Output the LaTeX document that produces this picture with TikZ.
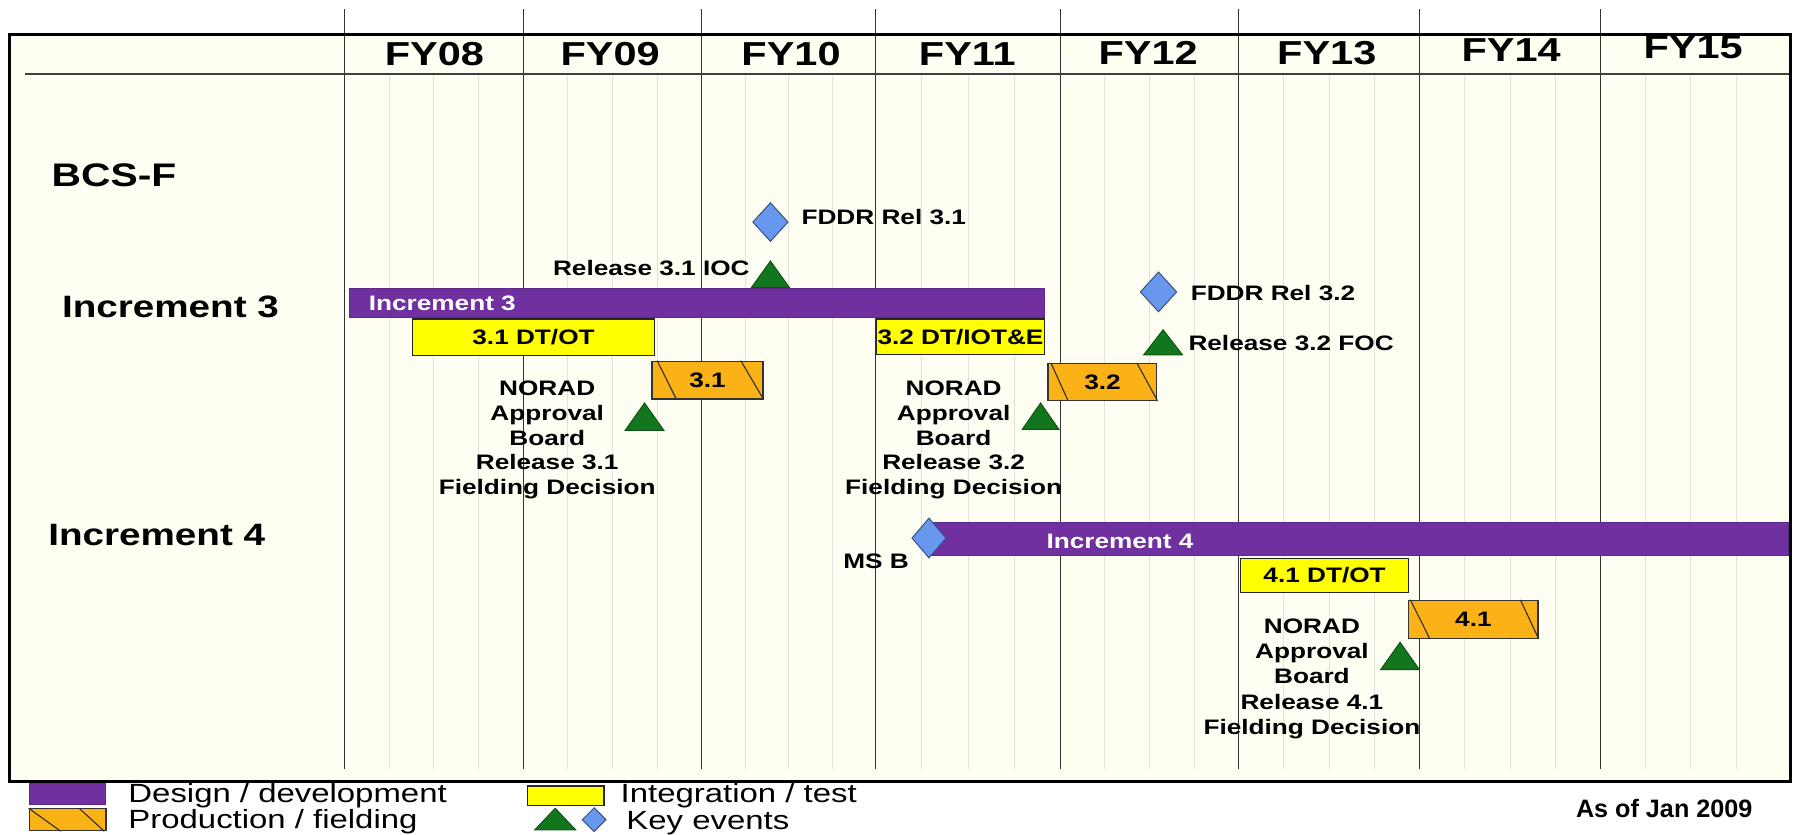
\documentclass[tikz,border=0pt]{standalone}
\usepackage{fontspec}
\setmainfont{Liberation Sans}[FakeStretch=1.25]
\newfontfamily\datefont{Liberation Sans}
\usetikzlibrary{shapes.geometric,calc}

\definecolor{devpurple}{RGB}{112,48,160}
\definecolor{testyellow}{RGB}{255,255,0}
\definecolor{fieldorange}{RGB}{250,178,22}
\definecolor{evgreen}{RGB}{18,118,30}
\definecolor{evblue}{RGB}{104,152,238}
\definecolor{chartbg}{RGB}{254,254,242}
\definecolor{minorline}{RGB}{226,226,220}

\tikzset{
  hdr/.style={font=\fontsize{29}{32}\selectfont\bfseries, anchor=base, inner sep=0pt},
  rowlbl/.style={font=\fontsize{27}{30}\selectfont\bfseries, anchor=base west, inner sep=0pt},
  evlbl/.style={font=\fontsize{18.3}{21.7}\selectfont\bfseries, inner sep=0pt},
  barlbl/.style={evlbl, text=white, anchor=base west},
  decision/.style={evlbl, align=center},
  legendlbl/.style={font=\fontsize{23}{26}\selectfont, anchor=base west, inner sep=0pt},
  devbar/.style={fill=devpurple, draw=devpurple!85!black, line width=0.5pt, anchor=north west, inner sep=0pt},
  testbox/.style={fill=testyellow, draw=black!85, line width=1.1pt, anchor=north west, inner sep=0pt,
    font=\fontsize{18.3}{21.7}\selectfont\bfseries},
  fieldbox/.style={fill=fieldorange, draw=black!80, line width=1.1pt, anchor=north west, inner sep=0pt,
    font=\fontsize{18.3}{21.7}\selectfont\bfseries},
  hatchline/.style={draw=black!80, line width=1pt},
  keydiamond/.style={diamond, fill=evblue, draw=evblue!55!black, line width=0.9pt, inner sep=0pt},
  keytri/.style={fill=evgreen, draw=evgreen!70!black, line width=0.8pt, line join=miter},
  majorgrid/.style={draw=black!80, line width=1pt},
  minorgrid/.style={draw=minorline, line width=0.7pt},
}

% green key-event triangle: name, base centre, half width, height
\newcommand\keytriangle[4]{%
  \coordinate (#1) at (#2);
  \filldraw[keytri] ($(#1)+(-#3,0)$) -- ($(#1)+(#3,0)$) -- ($(#1)+(0,-#4)$) -- cycle;}

\begin{document}
\begin{tikzpicture}[x=1pt,y=-1pt]
\useasboundingbox (0,0) rectangle (1568,729);
\fill[white] (0,0) rectangle (1568,729);
\fill[chartbg] (8,30) rectangle (1564,683);

% quarter lines
\foreach \a/\b in {301/457,457/613,613/765,765/926,926/1082,1082/1240,1240/1398,1398/1556}
  \foreach \q in {1,2,3}
    \draw[minorgrid] ({\a+\q*(\b-\a)/4},65) -- ({\a+\q*(\b-\a)/4},672);

% fiscal year boundaries
\foreach \x in {301,457,613,765,926,1082,1240,1398}
  \draw[majorgrid] (\x,8) -- (\x,672);

% header rule and frame
\draw[draw=black!75, line width=1.6pt] (22,65) -- (1564,65);
\draw[line width=2.6pt] (8,30) rectangle (1564,683);

% fiscal years
\node[hdr] (fy08) at (379.5,57.4) {FY08};
\node[hdr] (fy09) at (533,57.4) {FY09};
\node[hdr] (fy10) at (691,57.4) {FY10};
\node[hdr] (fy11) at (845,57) {FY11};
\node[hdr] (fy12) at (1003,56.5) {FY12};
\node[hdr] (fy13) at (1159,56.5) {FY13};
\node[hdr] (fy14) at (1320,54) {FY14};
\node[hdr] (fy15) at (1479,51) {FY15};

% row titles
\node[rowlbl, font=\fontsize{28.5}{31}\selectfont\bfseries] (bcsf) at (45,163) {BCS-F};
\node[rowlbl] (inc3lbl) at (54,277.7) {Increment 3};
\node[rowlbl] (inc4lbl) at (42,476.2) {Increment 4};

% ---------- Increment 3 ----------
\node[devbar, minimum width=607pt, minimum height=25pt] (inc3) at (305,252) {};
\node[barlbl] (inc3txt) at (322,271) {Increment 3};
\node[testbox, minimum width=211pt, minimum height=32pt] (t31) at (360,278) {3.1 DT/OT};
\node[testbox, minimum width=147pt, minimum height=31pt] (t32) at (765,278) {3.2 DT/IOT\&E};
\node[fieldbox, minimum width=97pt, minimum height=33pt] (f31) at (569,315) {3.1};
\draw[hatchline] ($(f31.north west)+(5,0)$) -- ($(f31.south west)+(22,0)$);
\draw[hatchline] ($(f31.north east)+(-20,0)$) -- (f31.south east);
\node[fieldbox, minimum width=95pt, minimum height=32pt] (f32) at (915,317) {3.2};
\draw[hatchline] ($(f32.north west)+(3,0)$) -- ($(f32.south west)+(18,0)$);
\draw[hatchline] ($(f32.north east)+(-18,0)$) -- (f32.south east);

\node[keydiamond, minimum width=31pt, minimum height=34pt] (fddr31) at (673,194) {};
\node[evlbl, anchor=base west] (fddr31txt) at (700,196.5) {FDDR Rel 3.1};
\keytriangle{ioc31}{673,251}{16.5}{23}
\node[evlbl, anchor=base east] (ioc31txt) at (655,240.5) {Release 3.1 IOC};

\keytriangle{nab31}{563,376}{17}{24}
\node[decision] (nab31txt) at (478,384.3) {NORAD\\Approval\\Board\\Release 3.1\\Fielding Decision};

\keytriangle{nab32}{909,375}{16}{23}
\node[decision] (nab32txt) at (833,384.3) {NORAD\\Approval\\Board\\Release 3.2\\Fielding Decision};

\node[keydiamond, minimum width=32pt, minimum height=35pt] (fddr32) at (1012,255) {};
\node[evlbl, anchor=base west] (fddr32txt) at (1040,262.5) {FDDR Rel 3.2};
\keytriangle{foc32}{1016,310}{17}{22}
\node[evlbl, anchor=base west] (foc32txt) at (1038,306.5) {Release 3.2 FOC};

% ---------- Increment 4 ----------
\node[devbar, minimum width=752pt, minimum height=29pt] (inc4) at (810,456) {};
\node[barlbl] (inc4txt) at (914,479.5) {Increment 4};
\node[keydiamond, minimum width=30pt, minimum height=35pt] (msb) at (811.5,470) {};
\node[evlbl, anchor=base east] (msbtxt) at (794,496.5) {MS B};
\node[testbox, minimum width=147pt, minimum height=30pt] (t41) at (1083,487) {4.1 DT/OT};
\node[fieldbox, minimum width=113pt, minimum height=33pt] (f41) at (1230,524) {4.1};
\draw[hatchline] ($(f41.north west)+(2,0)$) -- ($(f41.south west)+(19,0)$);
\draw[hatchline] ($(f41.north east)+(-16,0)$) -- (f41.south east);
\keytriangle{nab41}{1223,585}{17}{24}
\node[decision, font=\fontsize{18.3}{22}\selectfont\bfseries] (nab41txt) at (1146,592.9) {NORAD\\Approval\\Board\\Release 4.1\\Fielding Decision};

% ---------- legend ----------
\node[devbar, minimum width=67pt, minimum height=18pt] (legdev) at (25,684) {};
\node[legendlbl] (legdevtxt) at (112,701) {Design / development};
\node[fieldbox, minimum width=67pt, minimum height=19pt] (legfield) at (25,706) {};
\draw[hatchline] (legfield.north west) -- ($(legfield.south west)+(28,0)$);
\draw[hatchline] ($(legfield.north east)+(-24,0)$) -- ($(legfield.south east)+(-2,0)$);
\node[legendlbl] (legfieldtxt) at (112,724) {Production / fielding};
\node[testbox, minimum width=67pt, minimum height=17pt] (legtest) at (460,686) {};
\node[legendlbl] (legtesttxt) at (542,701) {Integration / test};
\keytriangle{legtri}{485,725}{18}{19}
\node[keydiamond, minimum width=21pt, minimum height=21pt] (legdia) at (519,716) {};
\node[legendlbl] (legkeytxt) at (547,724.5) {Key events};

\node[font=\datefont\fontsize{22}{25}\selectfont\bfseries, anchor=base east, inner sep=0pt] (asof) at (1531,714) {As of Jan 2009};
\end{tikzpicture}
\end{document}
